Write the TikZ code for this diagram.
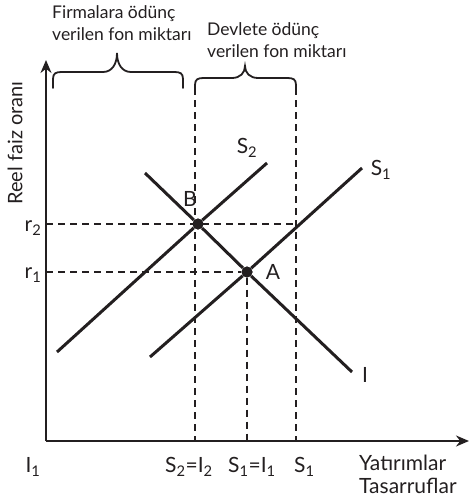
\documentclass[tikz,border=0pt]{standalone}
\usepackage{fontspec}
\setmainfont{Lato}
\usetikzlibrary{arrows.meta}
\definecolor{ink}{RGB}{35,31,32}
\begin{document}
\begin{tikzpicture}[x=1pt,y=-1pt,ink,
  curve/.style={line width=3pt},
  axis/.style={line width=2pt,-{Stealth[length=13pt,width=11pt]}},
  guide/.style={line width=1.8pt,dash pattern=on 7pt off 5pt},
  brace/.style={line width=1.8pt,line cap=round},
  lbl/.style={font=\fontsize{21}{23}\selectfont,inner sep=0pt},
  toplbl/.style={font=\fontsize{17.5}{22}\selectfont,align=left,inner sep=0pt},
  dot/.style={circle,fill=ink,inner sep=0pt,minimum size=11pt}]
  \useasboundingbox (0,0) rectangle (470,501);
  \coordinate (O) at (46,441);
  \coordinate (ytop) at (46,60);
  \coordinate (xend) at (469,441);
  \node[dot] (B) at (198,224) {};
  \node[dot] (A) at (247,272) {};
  \coordinate (s2lo) at (57,352);
  \coordinate (s2hi) at (267,163);
  \coordinate (s1lo) at (150,357);
  \coordinate (s1hi) at (362,168);
  \coordinate (ihi) at (145,173);
  \coordinate (ilo) at (352,372);
  \coordinate (dtl) at (195,88);
  \coordinate (dtr) at (296,88);
  \coordinate (dbl) at (195,441);
  \coordinate (dbr) at (296,441);
  \coordinate (dba) at (247,441);
  \coordinate (r2end) at (296,224);
  \draw[guide] (46,224) -- (r2end);
  \draw[guide] (46,272) -- (A);
  \draw[guide] (dtl) -- (dbl);
  \draw[guide] (dtr) -- (dbr);
  \draw[guide] (A) -- (dba);
  \draw[curve] (s2lo) -- (B) -- (s2hi);
  \draw[curve] (s1lo) -- (A) -- (s1hi);
  \draw[curve] (ihi) -- (B) -- (A) -- (ilo);
  \node[dot] at (B) {};
  \node[dot] at (A) {};
  \draw[axis] (O) -- (ytop);
  \draw[axis] (O) -- (xend);
  \draw[brace] (53,88) -- (53,79) .. controls (53,73) and (56,72) .. (62,72)
    -- (103,72) .. controls (112,72) and (117,64) .. (117,53)
    .. controls (117,64) and (122,72) .. (131,72) -- (174,72)
    .. controls (180,72) and (183,73) .. (183,79) -- (183,88);
  \draw[brace] (dtl) -- (195,85) .. controls (195,79) and (198,78) .. (204,78)
    -- (232,78) .. controls (240,78) and (245,73) .. (245,66)
    .. controls (245,73) and (250,78) .. (258,78) -- (287,78)
    .. controls (293,78) and (296,79) .. (296,85) -- (dtr);
  \node[toplbl,anchor=north west] (firm) at (52,5) {Firmalara ödünç\\verilen fon miktarı};
  \node[toplbl,anchor=north west] (devl) at (207,22) {Devlete ödünç\\verilen fon miktarı};
  \node[toplbl,font=\fontsize{20}{22}\selectfont,rotate=90] (yl) at (15,143) {Reel faiz oranı};
  \node[lbl] (r2) at (33,228) {r\textsubscript{2}};
  \node[lbl] (r1) at (33,275) {r\textsubscript{1}};
  \node[lbl] (Bl) at (190,199) {B};
  \node[lbl] (Al) at (273,272) {A};
  \node[lbl] (S2l) at (247,148) {S\textsubscript{2}};
  \node[lbl] (S1l) at (381,170) {S\textsubscript{1}};
  \node[lbl] (Il) at (365,375) {I};
  \node[lbl] (I1) at (33,467) {I\textsubscript{1}};
  \node[lbl] (eq2) at (189,467) {S\textsubscript{2}=I\textsubscript{2}};
  \node[lbl] (eq1) at (252,467) {S\textsubscript{1}=I\textsubscript{1}};
  \node[lbl,anchor=west] (S1b) at (294,467) {S\textsubscript{1}};
  \node[lbl,align=left,anchor=north west] (xl) at (359,455) {Yatırımlar\\Tasarruflar};
\end{tikzpicture}
\end{document}
